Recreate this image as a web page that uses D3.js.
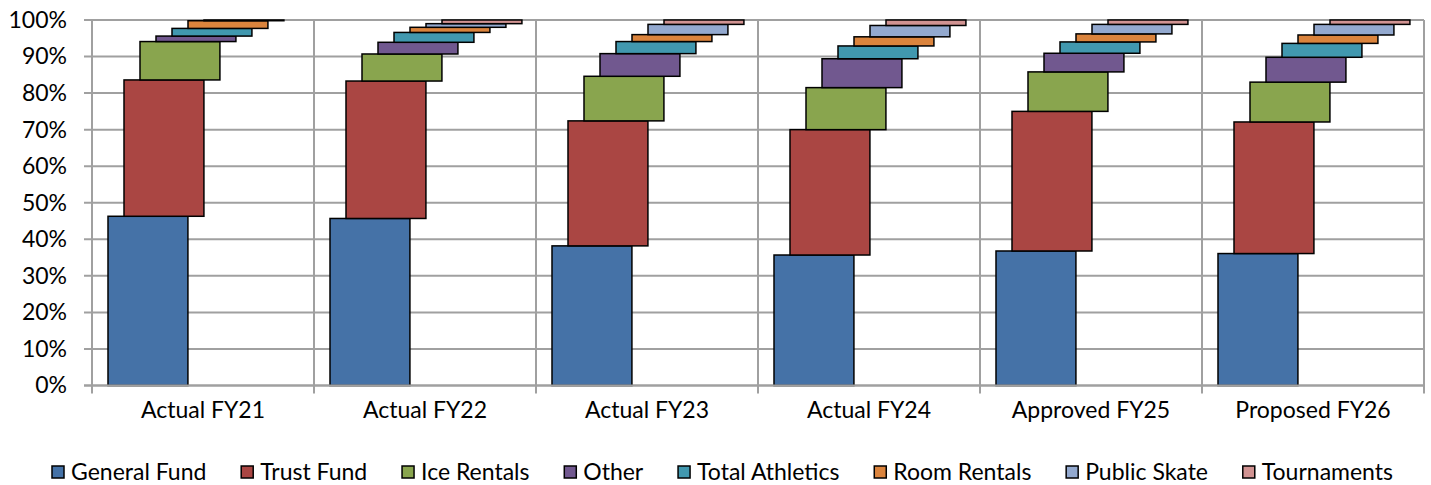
<!DOCTYPE html>
<html><head><meta charset="utf-8">
<script src="https://cdn.jsdelivr.net/npm/d3@7"></script>
<style>
html,body{margin:0;padding:0;background:#fff;}
svg text{font-family:Lato,"Open Sans",sans-serif;font-size:23px;fill:#000;}
</style></head>
<body><svg id="c" width="1431" height="485"></svg>
<script>
const categories = ["Actual FY21","Actual FY22","Actual FY23","Actual FY24","Approved FY25","Proposed FY26"];
const seriesNames = ["General Fund","Trust Fund","Ice Rentals","Other","Total Athletics","Room Rentals","Public Skate","Tournaments"];
const colors = ["#4572A7","#AA4643","#89A54E","#71588F","#4198AF","#DB843D","#93A9CF","#D19392"];
// percentage shares (%) per category
const generalFund    = [46.3, 45.7, 38.2, 35.7, 36.8, 36.1];
const trustFund      = [37.3, 37.6, 34.2, 34.3, 38.2, 36.0];
const iceRentals     = [10.5,  7.4, 12.2, 11.5, 10.8, 10.9];
const other          = [ 1.5,  3.2,  6.2,  7.9,  5.1,  6.8];
const totalAthletics = [ 2.1,  2.7,  3.3,  3.5,  3.1,  3.8];
const roomRentals    = [ 2.1,  1.4,  1.9,  2.5,  2.2,  2.3];
const publicSkate    = [ 0.2,  1.0,  2.8,  3.1,  2.6,  2.9];
const tournaments    = [ 0.0,  1.0,  1.2,  1.5,  1.2,  1.2];
const yTicks = [0,10,20,30,40,50,60,70,80,90,100];

const seriesValues = [generalFund,trustFund,iceRentals,other,totalAthletics,roomRentals,publicSkate,tournaments];
const rows = categories.map((c,i)=>{const r={cat:c}; seriesNames.forEach((s,j)=>r[s]=seriesValues[j][i]); return r;});

const svg = d3.select("#c");
const pL=92,pR=1424,pT=20,pB=385.5;
const FS="23px";
const x0 = d3.scaleBand().domain(categories).range([pL,pR]).padding(0);
const xs = d3.scalePoint().domain(seriesNames).range([16,128]);
const barW = x0.bandwidth()*0.36;
const y = d3.scaleLinear().domain([0,100]).range([pB,pT]);

const grid="#a0a0a0";
svg.append("g").selectAll("line").data(yTicks).join("line")
  .attr("x1",pL-8).attr("x2",pR).attr("y1",d=>y(d)).attr("y2",d=>y(d))
  .attr("stroke",grid).attr("stroke-width",2);
const bounds = categories.map(c=>x0(c)).concat([pR]);
svg.append("g").selectAll("line").data(bounds).join("line")
  .attr("x1",d=>d).attr("x2",d=>d).attr("y1",pT).attr("y2",pB+8)
  .attr("stroke",grid).attr("stroke-width",2);

const yAxis = d3.axisLeft(y).tickValues(yTicks).tickFormat(d=>d+"%").tickSize(0).tickPadding(25);
const ga = svg.append("g").attr("transform",`translate(${pL},0)`).call(yAxis);
ga.select(".domain").remove();
ga.selectAll("text").style("font-family","Lato").style("font-size",FS).attr("fill","#000");

const stacked = d3.stack().keys(seriesNames)(rows);
stacked.forEach((layer,j)=>{
  svg.append("g").selectAll("rect").data(layer.filter(d=>d[1]-d[0]>0)).join("rect")
    .attr("x",d=>x0(d.data.cat)+xs(layer.key))
    .attr("width",barW)
    .attr("y",d=>y(d[1]))
    .attr("height",d=>y(d[0])-y(d[1]))
    .attr("fill",colors[j]).attr("stroke","#000").attr("stroke-width",1.5);
});

svg.append("line").attr("x1",pL-8).attr("x2",pR).attr("y1",pB).attr("y2",pB)
  .attr("stroke",grid).attr("stroke-width",2);
const xAxis = d3.axisBottom(x0).tickSize(0).tickPadding(0);
const gx = svg.append("g").attr("transform",`translate(0,${pB})`).call(xAxis);
gx.select(".domain").remove();
gx.selectAll("text").attr("dy",null).attr("y",32.5).style("font-family","Lato").style("font-size",FS).attr("fill","#000");

// legend spanning x 52..1393
const lg = svg.append("g").attr("transform","translate(52,473)");
const items = seriesNames.map((s,j)=>{
  const g=lg.append("g");
  g.append("rect").attr("x",0).attr("y",-7).attr("width",12).attr("height",12)
   .attr("fill",colors[j]).attr("stroke","#000").attr("stroke-width",1.5);
  const t=g.append("text").attr("x",19).attr("y",7).text(s);
  return {g, w: 19 + t.node().getComputedTextLength()};
});
const total = d3.sum(items,d=>d.w);
const gap = (1393-52-total)/(items.length-1);
let lx=0;
items.forEach(it=>{ it.g.attr("transform",`translate(${lx},0)`); lx += it.w + gap; });
</script></body></html>
